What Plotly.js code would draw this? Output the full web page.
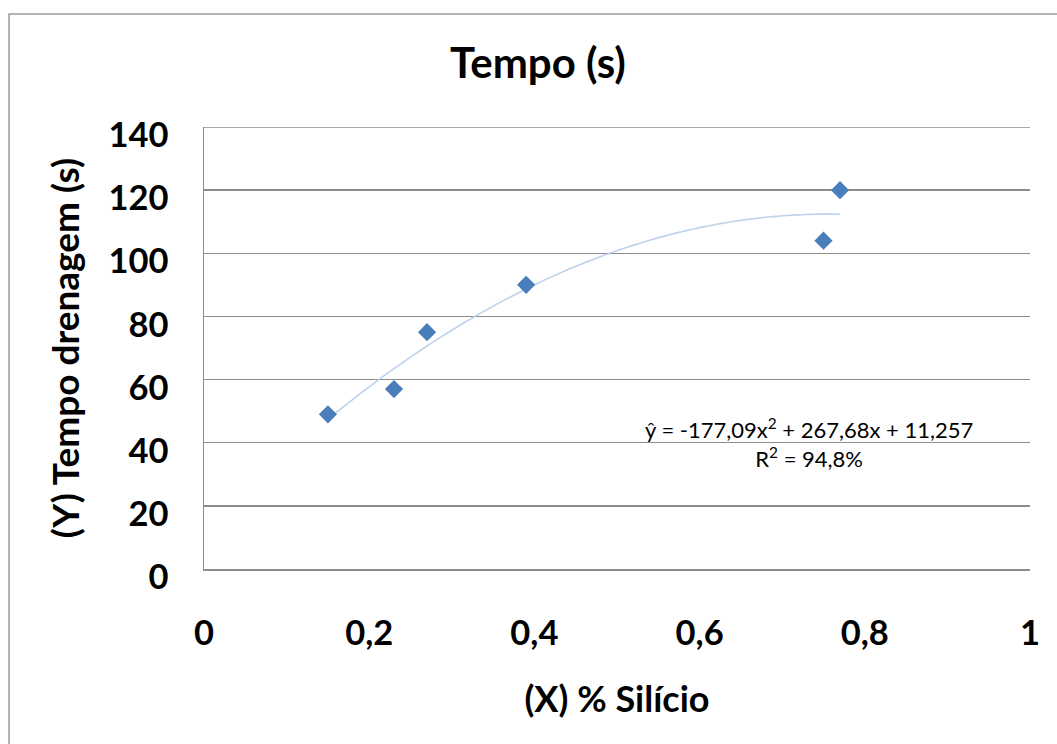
<!DOCTYPE html>
<html>
<head>
<meta charset="utf-8">
<script src="https://cdn.plot.ly/plotly-3.0.1.min.js"></script>
<style>html,body{margin:0;padding:0;background:#fff;}#chart{width:1057px;height:744px;}</style>
</head>
<body>
<div id="chart"></div>
<script>
// Data
var silicio = [0.15, 0.23, 0.27, 0.39, 0.75, 0.77];
var tempo = [49, 57, 75, 90, 104, 120];
// Trendline coefficients shown on the chart (a*x^2 + b*x + c)
var trendCoef = [-177.09, 267.68, 11.257];
var trendLabel = "ŷ = -177,09x<sup>2</sup> + 267,68x + 11,257<br>R<sup>2</sup> = 94,8%";
var xTicks = [0, 0.2, 0.4, 0.6, 0.8, 1];
var xTickText = ["0", "0,2", "0,4", "0,6", "0,8", "1"];
var yTicks = [0, 20, 40, 60, 80, 100, 120, 140];

var xMin = Math.min.apply(null, silicio), xMax = Math.max.apply(null, silicio);
var tx = [], ty = [];
for (var i = 0; i <= 60; i++) {
  var x = xMin + (xMax - xMin) * i / 60;
  tx.push(x);
  ty.push(trendCoef[0] * x * x + trendCoef[1] * x + trendCoef[2]);
}

var FONT = "Lato, 'Open Sans', sans-serif";
var GRID = "#8c8c8c";
var traces = [
  {x: tx, y: ty, mode: "lines", type: "scatter", hoverinfo: "skip",
   line: {color: "rgba(185,208,234,0.95)", width: 1.6, shape: "spline"}},
  {x: silicio, y: tempo, mode: "markers", type: "scatter",
   marker: {symbol: "diamond", size: 14, color: "#4a7ebb"}}
];

var layout = {
  width: 1057, height: 744,
  paper_bgcolor: "#fff", plot_bgcolor: "#fff",
  showlegend: false,
  separators: ", ",
  margin: {l: 204, r: 27, t: 127, b: 175},
  font: {family: FONT, color: "#000"},
  title: {text: "<b>Tempo (s)</b>", font: {family: FONT, size: 42, color: "#000"},
          xref: "container", x: 0.509, xanchor: "center", yref: "container", y: 0.915, yanchor: "middle"},
  xaxis: {
    range: [0, 1], tickvals: xTicks, ticktext: xTickText, showgrid: false, zeroline: false,
    showline: true, linecolor: GRID, linewidth: 1.5, ticks: "",
    tickfont: {family: FONT, size: 34.5, color: "#000", weight: "bold"},
    ticklabelstandoff: 33,
    title: {text: "<b>(X) % Silício</b>", font: {family: FONT, size: 36, color: "#000"}, standoff: 36}
  },
  yaxis: {
    range: [0, 140], tickvals: yTicks, showgrid: true, gridcolor: GRID, gridwidth: 1.5,
    zeroline: false, showline: true, linecolor: GRID, linewidth: 1.5, ticks: "",
    tickfont: {family: FONT, size: 34.5, color: "#000", weight: "bold"},
    ticklabelstandoff: 27, ticklabelshift: 8,
    title: {text: "<b>(Y) Tempo drenagem (s)</b>", font: {family: FONT, size: 37, color: "#000"}, standoff: 17}
  },
  annotations: [
    {xref: "x", yref: "y", x: 0.7325, y: 40, text: trendLabel, showarrow: false,
     font: {family: FONT, size: 22, color: "#000"}, align: "center", xanchor: "center", yanchor: "middle"}
  ],
  shapes: [
    {type: "rect", xref: "paper", yref: "paper", x0: -0.236, x1: 1.2, y0: -0.45, y1: 1.2557,
     line: {color: "#9a9a9a", width: 1.5}, fillcolor: "rgba(0,0,0,0)", layer: "below"},
    {type: "line", xref: "paper", yref: "y", x0: 0, x1: 1, y0: yTicks[yTicks.length - 1], y1: yTicks[yTicks.length - 1],
     line: {color: GRID, width: 1.5}, layer: "below"}
  ]
};

Plotly.newPlot("chart", traces, layout, {displayModeBar: false, staticPlot: true});
</script>
</body>
</html>
